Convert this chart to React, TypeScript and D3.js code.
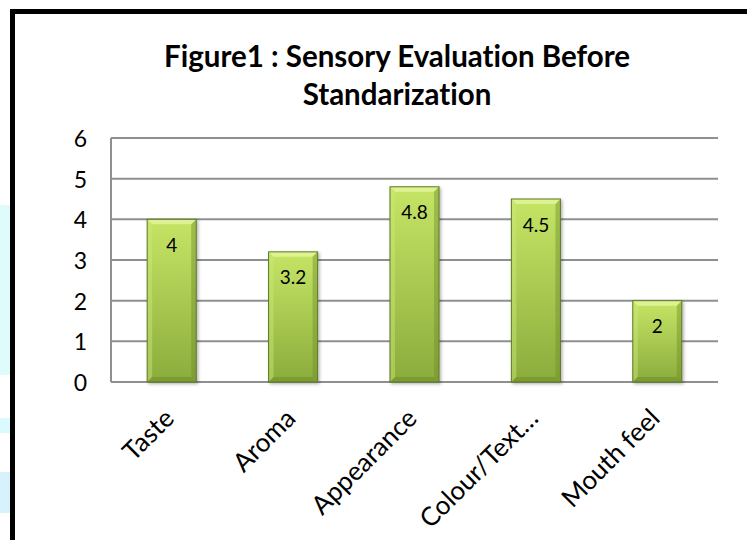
import * as d3 from "d3";
import { useMemo } from "react";

// chart values
const categories = ["Taste", "Aroma", "Appearance", "Colour/Text…", "Mouth feel"];
const scores = [4, 3.2, 4.8, 4.5, 2];
const yTicks = [0, 1, 2, 3, 4, 5, 6];
const titleLines = ["Figure1 : Sensory Evaluation Before", "Standarization"];

const W = 747;
const H = 540;
const dims = { left: 111, right: 718, top: 138, bottom: 382 };
const FONT = "Lato, 'Open Sans', sans-serif";
const noLig = { fontVariantLigatures: "none" as const };

const Bar = ({ x0, x1, y0, y1 }) => {
  const b = Math.min(5, (y1 - y0) / 2);
  return (
    <g filter="url(#barShadow)">
      <rect x={x0} y={y0} width={x1 - x0} height={y1 - y0} fill="url(#barGrad)" />
      {/* bevel faces */}
      <polygon
        points={`${x0},${y0} ${x1},${y0} ${x1 - b},${y0 + b} ${x0 + b},${y0 + b}`}
        fill="#e2f59a"
        opacity={0.85}
      />
      <polygon
        points={`${x0},${y0} ${x0 + b},${y0 + b} ${x0 + b},${y1 - b} ${x0},${y1}`}
        fill="#cde879"
        opacity={0.45}
      />
      <polygon
        points={`${x1},${y0} ${x1 - b},${y0 + b} ${x1 - b},${y1 - b} ${x1},${y1}`}
        fill="#6f8f2c"
        opacity={0.45}
      />
      <polygon
        points={`${x0},${y1} ${x0 + b},${y1 - b} ${x1 - b},${y1 - b} ${x1},${y1}`}
        fill="#6a8a28"
        opacity={0.5}
      />
      <rect
        x={x0}
        y={y0}
        width={x1 - x0}
        height={y1 - y0}
        fill="none"
        stroke="#5d7a26"
        strokeWidth={1}
      />
    </g>
  );
};

const App = () => {
  const xScale = useMemo(
    () =>
      d3
        .scaleBand()
        .domain(categories)
        .range([dims.left, dims.right])
        .paddingInner(0.596)
        .paddingOuter(0.298),
    []
  );
  const yScale = useMemo(
    () => d3.scaleLinear().domain([0, 6]).range([dims.bottom, dims.top]),
    []
  );

  const bars = categories.map((c, i) => {
    const x0 = xScale(c);
    const x1 = x0 + xScale.bandwidth();
    const y0 = yScale(scores[i]);
    const y1 = yScale(0);
    return (
      <g key={c}>
        <Bar x0={x0} x1={x1} y0={y0} y1={y1} />
        <text
          x={(x0 + x1) / 2}
          y={y0 + 25}
          textAnchor="middle"
          dominantBaseline="central"
          fontSize={19}
          fontFamily={FONT}
          fill="#000"
        >
          {scores[i]}
        </text>
      </g>
    );
  });

  return (
    <svg
      width={W}
      height={H}
      style={{ position: "absolute", left: 0, top: 0, background: "#fff" }}
    >
      <defs>
        <linearGradient id="barGrad" x1="0" y1="0" x2="0" y2="1">
          <stop offset="0%" stopColor="#c6e566" />
          <stop offset="100%" stopColor="#8bac3c" />
        </linearGradient>
        <filter id="barShadow" x="-20%" y="-20%" width="140%" height="140%">
          <feDropShadow dx="1.5" dy="1.5" stdDeviation="1.5" floodColor="#000" floodOpacity="0.3" />
        </filter>
      </defs>

      {/* page background scraps left of the frame */}
      <rect x={0} y={205} width={10} height={170} fill="#dffcfd" />
      <rect x={0} y={418} width={10} height={15} fill="#dafafd" />
      <rect x={0} y={472} width={10} height={41} fill="#d8f2fb" />

      {/* chart frame */}
      <rect x={12.5} y={11.5} width={W + 40} height={H + 40} fill="#fff" stroke="#000" strokeWidth={5} />

      {/* title */}
      {titleLines.map((t, i) => (
        <text
          key={t}
          x={397}
          y={67 + i * 38}
          textAnchor="middle"
          fontSize={29.5}
          fontWeight="bold"
          fontFamily={FONT}
          style={noLig}
          fill="#000"
        >
          {t}
        </text>
      ))}

      {/* gridlines */}
      {yTicks.map((t) => (
        <line
          key={t}
          x1={dims.left}
          x2={dims.right}
          y1={yScale(t)}
          y2={yScale(t)}
          stroke="#8f8f8f"
          strokeWidth={2}
        />
      ))}
      <line x1={dims.left} x2={dims.left} y1={dims.top} y2={dims.bottom} stroke="#8f8f8f" strokeWidth={2} />

      {/* y labels */}
      {yTicks.map((t) => (
        <text
          key={"y" + t}
          x={87}
          y={yScale(t)}
          textAnchor="end"
          dominantBaseline="central"
          fontSize={23}
          fontFamily={FONT}
          fill="#000"
        >
          {t}
        </text>
      ))}

      {bars}

      {/* x labels */}
      {categories.map((c) => {
        const cx = xScale(c) + xScale.bandwidth() / 2 + 4;
        const cy = dims.bottom + 38;
        return (
          <text
            key={"x" + c}
            x={cx}
            y={cy}
            textAnchor="end"
            transform={`rotate(-45, ${cx}, ${cy})`}
            fontSize={26}
            fontFamily={FONT}
            style={noLig}
            fill="#000"
          >
            {c}
          </text>
        );
      })}
    </svg>
  );
};

export default App;
